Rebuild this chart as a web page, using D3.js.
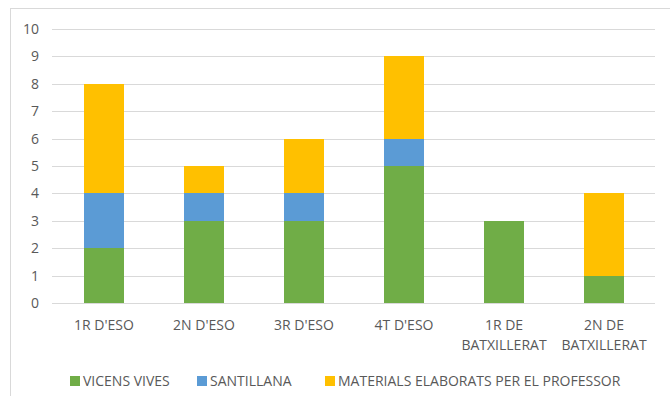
<!DOCTYPE html>
<html><head><meta charset="utf-8">
<script src="https://cdn.jsdelivr.net/npm/d3@7"></script>
<style>body{margin:0;background:#fff}svg{display:block}text{font-family:"Open Sans","Liberation Sans",sans-serif;fill:#595959}</style>
</head><body><svg id="c" width="670" height="396"></svg>
<script>
const categories = [["1R D'ESO"],["2N D'ESO"],["3R D'ESO"],["4T D'ESO"],["1R DE","BATXILLERAT"],["2N DE","BATXILLERAT"]];
const seriesNames = ["VICENS VIVES","SANTILLANA","MATERIALS ELABORATS PER EL PROFESSOR"];
const vicensVives = [2,3,3,5,3,1];
const santillana = [2,1,1,1,0,0];
const materials = [4,1,2,3,0,3];
const yTicks = [0,1,2,3,4,5,6,7,8,9,10];
const colors = ["#70AD47","#5B9BD5","#FFC000"];

const svg = d3.select("#c");
svg.append("rect").attr("x",10.5).attr("y",8.5).attr("width",670).attr("height",400).attr("fill","#fff").attr("stroke","#d9d9d9");

const x = d3.scaleBand().domain(d3.range(categories.length)).range([54,654]).paddingInner(0.6).paddingOuter(0.3);
const y = d3.scaleLinear().domain([0,10]).range([303,29]);

svg.append("g").selectAll("line").data(yTicks).join("line")
  .attr("x1",52).attr("x2",655).attr("y1",d=>Math.round(y(d))+0.5).attr("y2",d=>Math.round(y(d))+0.5)
  .attr("stroke","#d9d9d9").attr("stroke-width",1);
svg.append("g").selectAll("text").data(yTicks).join("text")
  .attr("x",39).attr("y",d=>y(d)).attr("dy","0.35em").attr("text-anchor","end").attr("font-size",14).text(d=>d);

const rows = categories.map((c,i)=>({i, v:vicensVives[i], s:santillana[i], m:materials[i]}));
const stack = d3.stack().keys(["v","s","m"])(rows);
svg.append("g").attr("shape-rendering","crispEdges").selectAll("g").data(stack).join("g").attr("fill",(d,i)=>colors[i])
  .selectAll("rect").data(d=>d).join("rect")
  .attr("x",d=>Math.round(x(d.data.i))).attr("width",Math.round(x.bandwidth()))
  .attr("y",d=>Math.round(y(d[1]))).attr("height",d=>Math.round(y(d[0]))-Math.round(y(d[1])));

const lab = svg.append("g").selectAll("text").data(categories).join("text")
  .attr("text-anchor","middle").attr("font-size",14)
  .attr("x",(d,i)=>x(i)+x.bandwidth()/2).attr("y",330);
lab.selectAll("tspan").data(d=>d).join("tspan")
  .attr("x",function(){return this.parentNode.getAttribute("x");})
  .attr("dy",(d,j)=>j===0?0:20).text(d=>d);

const legX = [70,197,325];
const leg = svg.append("g").selectAll("g").data(seriesNames).join("g")
  .attr("transform",(d,i)=>`translate(${legX[i]},381)`);
leg.append("rect").attr("x",0).attr("y",-5).attr("width",10).attr("height",10).attr("fill",(d,i)=>colors[i]);
leg.append("text").attr("x",13).attr("y",0).attr("dy","0.35em").attr("font-size",14).text(d=>d);
</script></body></html>
